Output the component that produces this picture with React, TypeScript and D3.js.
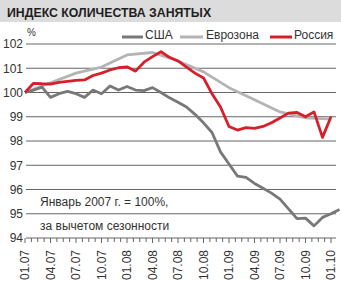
import React from "react";
import * as d3 from "d3";

const W = 341;
const H = 281;

const title = "ИНДЕКС КОЛИЧЕСТВА ЗАНЯТЫХ";
const seriesNames = ["США", "Еврозона", "Россия"];
const seriesColors = ["#787878", "#b4b4b4", "#d71f2b"];

// monthly values, index 0 = 01.07
const usa = [100.0, 100.1, 100.22, 99.8, 99.95, 100.05, 99.95, 99.8, 100.1, 99.95, 100.27, 100.1, 100.25, 100.1, 100.08, 100.2, 100.0, 99.78, 99.6, 99.4, 99.1, 98.75, 98.35, 97.55, 97.05, 96.55, 96.5, 96.25, 96.05, 95.85, 95.6, 95.2, 94.8, 94.82, 94.5, 94.85, 95.0, 95.18];
const russia = [100.0, 100.38, 100.36, 100.35, 100.42, 100.46, 100.5, 100.52, 100.7, 100.8, 100.93, 101.02, 101.06, 100.88, 101.25, 101.48, 101.68, 101.45, 101.3, 101.05, 100.8, 100.6, 99.95, 99.4, 98.6, 98.45, 98.55, 98.52, 98.6, 98.75, 98.95, 99.15, 99.18, 99.0, 99.2, 98.15, 99.0];
// quarterly eurozone
const euroMonths = [0, 3, 6, 9, 12, 15, 18, 21, 24, 27, 30, 33, 36];
const euro = [100.0, 100.4, 100.8, 101.05, 101.55, 101.65, 101.3, 100.85, 100.2, 99.7, 99.2, 98.95, 98.9];

const quarterLabels = ["01.07", "04.07", "07.07", "10.07", "01.08", "04.08", "07.08", "10.08", "01.09", "04.09", "07.09", "10.09", "01.10"];
const yTicks = [94, 95, 96, 97, 98, 99, 100, 101, 102];
const note1 = "Январь 2007 г. = 100%,";
const note2 = "за вычетом сезонности";

const FONT = "'Liberation Sans', Arial, sans-serif";

export default function App() {
  const x = d3.scaleLinear().domain([0, 37]).range([25, 339.5]);
  const y = d3.scaleLinear().domain([94, 102]).range([238, 44]);
  const line = d3
    .line<[number, number]>()
    .x((d) => x(d[0]))
    .y((d) => y(d[1]));

  const usaPts: [number, number][] = usa.map((v, i) => [i, v]);
  const rusPts: [number, number][] = russia.map((v, i) => [i, v]);
  const euroPts: [number, number][] = euro.map((v, i) => [euroMonths[i], v]);

  const gridX0 = 26;
  const gridX1 = 336;
  const minorTicks = d3.range(0, 36.001, 0.75);

  const legendItems = [
    { name: seriesNames[0], color: seriesColors[0], x0: 122, x1: 143, tx: 145 },
    { name: seriesNames[1], color: seriesColors[1], x0: 180, x1: 203, tx: 206 },
    { name: seriesNames[2], color: seriesColors[2], x0: 270, x1: 292, tx: 294 },
  ];

  return (
    <svg
      width={W}
      height={H}
      style={{ position: "absolute", left: 0, top: 0, display: "block", background: "#fff" }}
      fontFamily={FONT}
    >
      <rect x={0} y={0} width={W} height={22} fill="#dcdcdc" />
      <text x={7} y={17} fontSize={12.3} fontWeight="bold" fill="#1e1e1e">
        {title}
      </text>

      {/* gridlines */}
      {yTicks.map((t) => (
        <line key={t} x1={gridX0} x2={gridX1} y1={y(t)} y2={y(t)} stroke="#666" strokeWidth={1} />
      ))}
      {yTicks.map((t) => (
        <text key={"l" + t} x={23} y={y(t)} dy="0.36em" textAnchor="end" fontSize={12} fill="#333">
          {t}
        </text>
      ))}
      <text x={27} y={36} fontSize={10} fill="#333">%</text>

      {/* x ticks */}
      {minorTicks.map((m, i) => (
        <line key={i} x1={x(m)} x2={x(m)} y1={y(94)} y2={y(94) + (i % 4 === 0 ? 5 : 4)} stroke="#666" strokeWidth={1} />
      ))}
      {quarterLabels.map((lab, i) => (
        <text
          key={lab}
          transform={`translate(${x(i * 3) + 4},250) rotate(-90)`}
          textAnchor="end"
          fontSize={12}
          fill="#333"
        >
          {lab}
        </text>
      ))}

      {/* notes */}
      <text x={40} y={206} fontSize={12} fill="#333">{note1}</text>
      <text x={40} y={230} fontSize={12} fill="#333">{note2}</text>

      {/* series */}
      <path d={line(euroPts) || ""} fill="none" stroke={seriesColors[1]} strokeWidth={2.8} strokeLinejoin="round" />
      <path d={line(usaPts) || ""} fill="none" stroke={seriesColors[0]} strokeWidth={2.8} strokeLinejoin="round" />
      <path d={line(rusPts) || ""} fill="none" stroke={seriesColors[2]} strokeWidth={2.8} strokeLinejoin="round" />

      {/* legend */}
      {legendItems.map((it) => (
        <g key={it.name}>
          <line x1={it.x0} x2={it.x1} y1={37} y2={37} stroke={it.color} strokeWidth={3} />
          <text x={it.tx} y={38.5} fontSize={12} fill="#333">
            {it.name}
          </text>
        </g>
      ))}
    </svg>
  );
}
